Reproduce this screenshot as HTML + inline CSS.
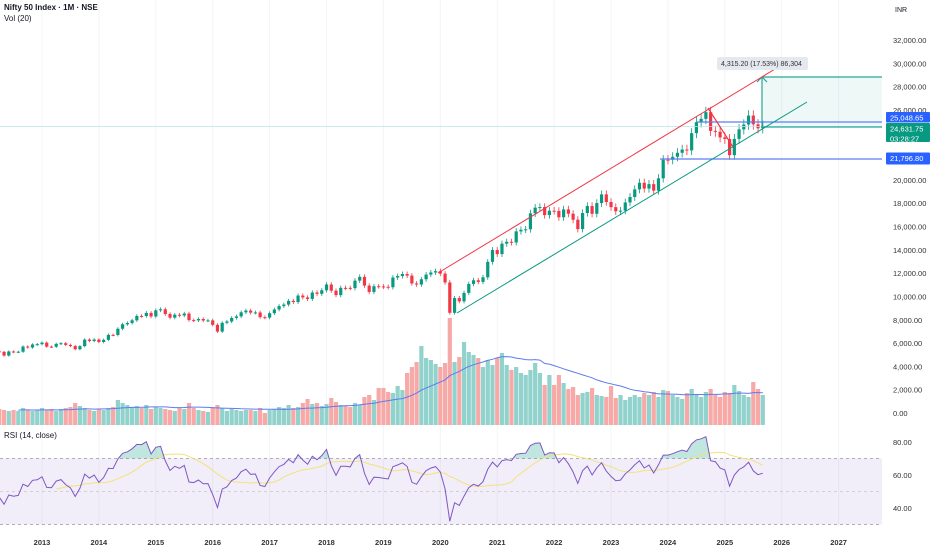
<!DOCTYPE html>
<html><head><meta charset="utf-8">
<style>
html,body{margin:0;padding:0;background:#fff;}
body{width:932px;height:550px;overflow:hidden;font-family:"Liberation Sans",sans-serif;}
svg text{font-family:"Liberation Sans",sans-serif;}
</style></head>
<body>
<svg id="chart" width="932" height="550" viewBox="0 0 932 550" xmlns="http://www.w3.org/2000/svg">
  <rect x="0" y="0" width="932" height="550" fill="#ffffff"/>
  <g id="grid"></g>
  <g id="rsiBg"></g>
  <g id="vol"></g>
  <g id="candles"></g>
  <g id="draw"></g>
  <g id="rsi"></g>
  <g id="axes"></g>
  <text x="4" y="10" font-size="8" font-weight="bold" fill="#131722">Nifty 50 Index · 1M · NSE</text>
  <text x="4" y="21" font-size="8" fill="#131722">Vol (20)</text>
  <text x="4" y="438" font-size="8" fill="#131722">RSI (14, close)</text>
  <text x="895" y="12" font-size="7" fill="#131722">INR</text>
</svg>
<script>
// ---- data (monthly, starting Jan 2011) ----
const startYear = 2011;
const closes = [
5506,5333,5834,5749,5560,5647,5482,5001,4943,5326,4832,4624,
5199,5385,5296,5248,4924,5279,5229,5258,5703,5619,5880,5905,
6035,5693,5683,5930,5986,5842,5742,5472,5735,6299,6176,6304,
6090,6277,6704,6696,7230,7611,7721,7954,8327,8322,8588,8283,
8809,8902,8491,8182,8434,8369,8533,7971,7949,8066,7935,7946,
7564,6987,7738,7850,8160,8288,8639,8786,8611,8626,8224,8186,
8561,8880,9174,9304,9621,9521,10077,9918,9789,10335,10227,10531,
11028,10493,10114,10739,10736,10714,11357,11681,10930,10387,10877,10863,
10831,10793,11624,11748,11923,11789,11118,11023,11474,11877,12056,12168,
11962,11202,8598,9860,9580,10302,11073,11388,11248,11642,12969,13982,
13635,14529,14691,14631,15583,15722,15763,17132,17618,17672,16983,17354,
17340,16794,17465,17103,16585,15780,17158,17759,17094,18012,18758,18105,
17662,17304,17360,18065,18534,19189,19754,19254,19638,19080,20133,21731,
21726,21983,22327,22605,22531,24011,24951,25236,25811,24205,24131,23645,
23508,22125,23519,24334,24751,25517,24768,24427,24631
];
const volumes = [
15,15,15,15,15,15,15,15,15,15,15,15,
15,15,15,16,15,14,15,14,17,15,14,15,
17,15,16,14,16,17,18,22,19,17,15,14,
16,15,17,18,25,22,20,18,19,17,20,16,
18,17,16,15,14,17,16,22,17,15,14,13,
18,20,17,14,16,15,14,15,15,14,17,12,
15,16,18,17,20,17,18,22,26,21,22,19,
21,27,23,20,19,18,22,20,28,30,25,37,
37,33,32,39,35,52,58,63,79,67,65,61,
58,62,107,63,68,83,73,70,67,58,65,60,
67,72,60,55,58,52,50,55,62,52,40,50,
40,50,42,36,38,30,32,33,37,30,29,28,
39,27,30,25,28,30,28,32,30,33,28,35,
34,30,28,26,32,36,31,28,33,36,30,28,
33,32,40,34,30,28,43,36,30
];
const priceTicks = [2000,4000,6000,8000,10000,12000,14000,16000,18000,20000,22000,24000,26000,28000,30000,32000];
const yearTicks = [2013,2014,2015,2016,2017,2018,2019,2020,2021,2022,2023,2024,2025,2026,2027];
const rsiTicks = [40,60,80];

// ---- axes ----
const PLOT_R = 882;
function xM(i){ return 42 + (i - 24) * 4.742; }
function xYear(y){ return 42 + (y - 2013) * 56.9; }
function yP(v){ return 413 - v * 0.011655; }
function yV(v){ return 425 - v; }
function yR(v){ return 491.5 - (v - 50) * 1.65; }

const NS = "http://www.w3.org/2000/svg";
function mk(tag, attrs, parent){
  const e = document.createElementNS(NS, tag);
  for (const k in attrs) e.setAttribute(k, attrs[k]);
  parent.appendChild(e); return e;
}
const G = id => document.getElementById(id);
const fmt = v => v.toLocaleString('en-US',{minimumFractionDigits:2,maximumFractionDigits:2});

yearTicks.forEach(y=>{
  const l = mk('line',{x1:xYear(y),x2:xYear(y),y1:0,y2:526,stroke:'#f3f4f6','stroke-width':1},G('grid'));
  
  
});

priceTicks.forEach(v=>{
  if (v===24000 || v===22000) return;
  const t = mk('text',{x:893,y:yP(v)+3,'font-size':7.5,fill:'#333'},G('axes'));
  t.textContent = fmt(v);
  
  
});
[0].forEach(v=>{
  const t = mk('text',{x:893,y:yP(v)+3,'font-size':7.5,fill:'#333'},G('axes'));
  t.textContent = '0.00';
  
  
});
yearTicks.forEach(y=>{
  const t = mk('text',{x:xYear(y),y:545,'font-size':7.5,'font-weight':'bold',fill:'#333','text-anchor':'middle'},G('axes'));
  t.textContent = y;
  
  
});
rsiTicks.forEach(v=>{
  const t = mk('text',{x:893,y:yR(v)+3,'font-size':7.5,fill:'#333'},G('axes'));
  t.textContent = fmt(v);
  
  
});

volumes.forEach((v,i)=>{
  const up = i===0 ? true : closes[i] >= closes[i-1];
  const r = mk('rect',{x:xM(i)-2.1,y:yV(v),width:4.2,height:v,fill:up?'#92d2cc':'#f7a9a7'},G('vol'));
  
  
});
let vpts=[];
for(let i=19;i<volumes.length;i++){
  let s=0; for(let j=i-19;j<=i;j++) s+=volumes[j];
  vpts.push(xM(i).toFixed(1)+','+yV(s/20).toFixed(1));
}
const vma = mk('polyline',{points:vpts.join(' '),fill:'none',stroke:'#5b7cf0','stroke-width':1},G('vol'));



closes.forEach((c,i)=>{
  const o = i===0 ? c : closes[i-1];
  const up = c >= o;
  const hi = Math.max(o,c)*1.018, lo = Math.min(o,c)*0.982;
  const col = up ? '#089981' : '#f23645';
  const x = xM(i);
  const w = mk('line',{x1:x,x2:x,y1:yP(hi),y2:yP(lo),stroke:col,'stroke-width':0.8},G('candles'));
  
  
  const top = yP(Math.max(o,c)), bot = yP(Math.min(o,c));
  const b = mk('rect',{x:x-1.6,y:top,width:3.2,height:Math.max(1,bot-top),fill:col},G('candles'));
  
  
});

let rsi = new Array(closes.length).fill(null);
let ag=0, al=0;
for(let i=1;i<=14;i++){ const d=closes[i]-closes[i-1]; if(d>0) ag+=d; else al-=d; }
ag/=14; al/=14; rsi[14] = 100 - 100/(1+ag/al);
for(let i=15;i<closes.length;i++){
  const d=closes[i]-closes[i-1];
  ag=(ag*13+Math.max(d,0))/14; al=(al*13+Math.max(-d,0))/14;
  rsi[i] = al===0?100:100-100/(1+ag/al);
}
let rma = new Array(closes.length).fill(null);
for(let i=27;i<closes.length;i++){ let s=0; for(let j=i-13;j<=i;j++) s+=rsi[j]; rma[i]=s/14; }

const rb = G('rsiBg');
const band = mk('rect',{x:0,y:yR(70),width:PLOT_R,height:yR(30)-yR(70),fill:'rgba(126,87,194,0.1)'},rb);


[70,50,30].forEach(v=>{
  const l = mk('line',{x1:0,x2:PLOT_R,y1:yR(v),y2:yR(v),stroke:v===50?'#c8c8d0':'#9598a1','stroke-width':0.8,'stroke-dasharray':'3,3'},rb);
  
  
});
const rg = G('rsi');
const defs = mk('defs',{},rg);
const cp = mk('clipPath',{id:'above70'},defs);
mk('rect',{x:0,y:420,width:PLOT_R,height:yR(70)-420},cp);
let rp=[]; for(let i=14;i<closes.length;i++) rp.push(xM(i).toFixed(1)+','+yR(rsi[i]).toFixed(1));
const area = mk('polygon',{points:xM(14).toFixed(1)+','+yR(70)+' '+rp.join(' ')+' '+xM(closes.length-1).toFixed(1)+','+yR(70),fill:'rgba(8,153,129,0.25)','clip-path':'url(#above70)'},rg);


let mp=[]; for(let i=27;i<closes.length;i++) mp.push(xM(i).toFixed(1)+','+yR(rma[i]).toFixed(1));
const ml = mk('polyline',{points:mp.join(' '),fill:'none',stroke:'#f2e27a','stroke-width':1},rg);


const rl = mk('polyline',{points:rp.join(' '),fill:'none',stroke:'#7e57c2','stroke-width':1},rg);



const d = G('draw');
function line(x1,y1,x2,y2,col,name,w){
  const l = mk('line',{x1:x1,y1:y1,x2:x2,y2:y2,stroke:col,'stroke-width':w||1},d);
  
  
  return l;
}
const box = mk('rect',{x:762,y:77,width:PLOT_R-762,height:127-77,fill:'rgba(8,153,129,0.07)'},d);


line(0,126.5,PLOT_R,126.5,'#b9e3e4','current-price-line',0.8);
line(762,77,PLOT_R,77,'#26a69a','target-line',1.2);
line(762,127,PLOT_R,127,'#26a69a','entry-line',1.2);
line(762,127,762,77,'#26a69a','measure-arrow',1.2);
line(762,77,757,82,'#26a69a','arrow-head-left',1.2);
line(762,77,767,82,'#26a69a','arrow-head-right',1.2);
line(697,122,PLOT_R,122,'#5b7ef5','resistance-line-25048',1.2);
line(660,159,PLOT_R,159,'#5b7ef5','support-line-21796',1.2);
line(438,273,780,66,'#f23645','channel-upper-line',1);
line(457,313,807,102,'#089981','channel-lower-line',1);
line(708,108,733,147,'#f23645','pullback-line',1.2);

const ml2 = mk('rect',{x:717,y:57,width:91,height:13,rx:2,fill:'#e6e8f0'},d);


const mt = mk('text',{x:721,y:66,'font-size':7,fill:'#333'},d);
mt.textContent='4,315.20 (17.53%) 86,304';



function tag(y,h,col,lines,name){
  const r = mk('rect',{x:886,y:y,width:44,height:h,rx:1,fill:col},G('axes'));
  
  
  lines.forEach((s,k)=>{
    const t = mk('text',{x:890,y:y+8.5+k*10,'font-size':7.5,fill:'#fff'},G('axes'));
    t.textContent=s;
    
    
  });
}
tag(112,10.5,'#2962ff',['25,048.65'],'price-tag-25048');
tag(123,19,'#089981',['24,631.75','03:28:27'],'price-tag-current');
tag(152.5,12,'#2962ff',['21,796.80'],'price-tag-21796');
</script>
</body></html>
